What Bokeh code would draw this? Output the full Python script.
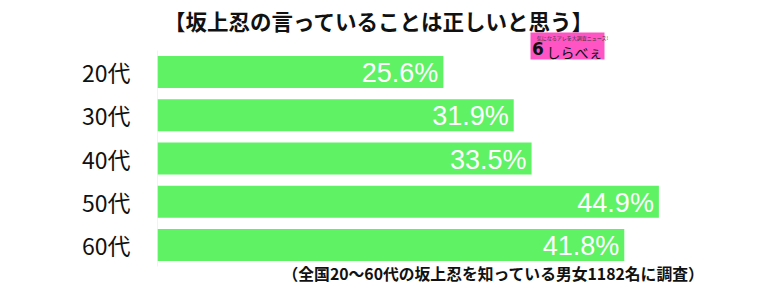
from bokeh.plotting import figure
from bokeh.models import ColumnDataSource, Range1d, FixedTicker
from bokeh.core.properties import value
from bokeh.embed import file_html
from bokeh.resources import INLINE

# ---- data ----
categories = ["20代", "30代", "40代", "50代", "60代"]
percentages = [25.6, 31.9, 33.5, 44.9, 41.8]
value_labels = ["25.6%", "31.9%", "33.5%", "44.9%", "41.8%"]
title_text = "【坂上忍の言っていることは正しいと思う】"
note_text = "（全国20～60代の坂上忍を知っている男女1182名に調査）"
logo_text = "しらべぇ"
logo_tagline = "気になるアレを大調査ニュース!"

# ---- layout (pixels) ----
W, H = 768, 284
LEFT, RIGHT = 157, 8
XMAX = 54.0
frame_w = W - LEFT - RIGHT
ROW0_PX = 71.6     # centre of the first bar, from the top
ROW_PX = 43.2      # bar pitch

def dx(px):
    return (px - LEFT) * XMAX / frame_w

def dy(py):
    return (py - ROW0_PX) / ROW_PX

ypos = list(range(len(categories)))
source = ColumnDataSource(dict(y=ypos, v=percentages, lab=value_labels))

p = figure(width=W, height=H, output_backend="svg", toolbar_location=None,
           x_range=Range1d(0, XMAX),
           y_range=Range1d(dy(H), dy(0)),
           min_border_left=LEFT, min_border_right=RIGHT,
           min_border_top=0, min_border_bottom=0,
           background_fill_color="white", border_fill_color="white")
p.outline_line_color = None
p.xgrid.visible = False
p.ygrid.visible = False
p.xaxis.visible = False

ya = p.yaxis[0]
ya.ticker = FixedTicker(ticks=ypos)
ya.major_label_overrides = {i: c for i, c in zip(ypos, categories)}
ya.axis_line_color = None
ya.major_tick_line_color = None
ya.minor_tick_line_color = None
ya.major_tick_out = 0
ya.major_tick_in = 0
ya.major_label_standoff = 27
ya.major_label_text_font = "Noto Sans CJK JP"
ya.major_label_text_font_size = "23px"
ya.major_label_text_color = "#111111"

# axis base line
p.segment(x0=0, x1=0, y0=ypos[0] - 0.5, y1=ypos[-1] + 0.5,
          line_color="#e6e6e6", line_width=1)

p.hbar(y="y", right="v", left=0, height=0.74, source=source,
       fill_color="#5ef264", line_color=None)

p.text(x="v", y="y", text="lab", source=source, x_offset=-5, y_offset=1,
       text_align="right", text_baseline="middle", text_color="white",
       text_font=value("Liberation Sans"), text_font_size="27px")

# title
p.text(x=[dx(378.5)], y=[dy(20)], text=[title_text], text_align="center",
       text_baseline="middle", text_font=value("Noto Sans CJK JP"),
       text_font_style="bold", text_font_size="21.5px", text_color="#111111")

# logo
p.quad(left=[dx(530)], right=[dx(604)], top=[dy(32)], bottom=[dy(59)],
       fill_color="#ff55c4", line_color=None)
p.text(x=[dx(537.5)], y=[dy(48)], text=["6"], text_align="center",
       text_baseline="middle", text_font=value("DejaVu Sans"),
       text_font_style="bold", text_font_size="17px", text_color="#111111")
p.text(x=[dx(546)], y=[dy(51)], text=[logo_text], text_align="left",
       text_baseline="middle", text_font=value("Noto Sans CJK JP"),
       text_font_size="14px", text_color="#111111")
p.text(x=[dx(572)], y=[dy(36.5)], text=[logo_tagline], text_align="center",
       text_baseline="middle", text_font=value("Noto Sans CJK JP"),
       text_font_size="5px", text_color="#333333")

# footnote
p.text(x=[dx(282)], y=[dy(273)], text=[note_text], text_align="left",
       text_baseline="middle", text_font=value("Noto Sans CJK JP"),
       text_font_style="bold", text_font_size="15.8px", text_color="#111111")

open("out.html", "w").write(file_html(p, INLINE))
